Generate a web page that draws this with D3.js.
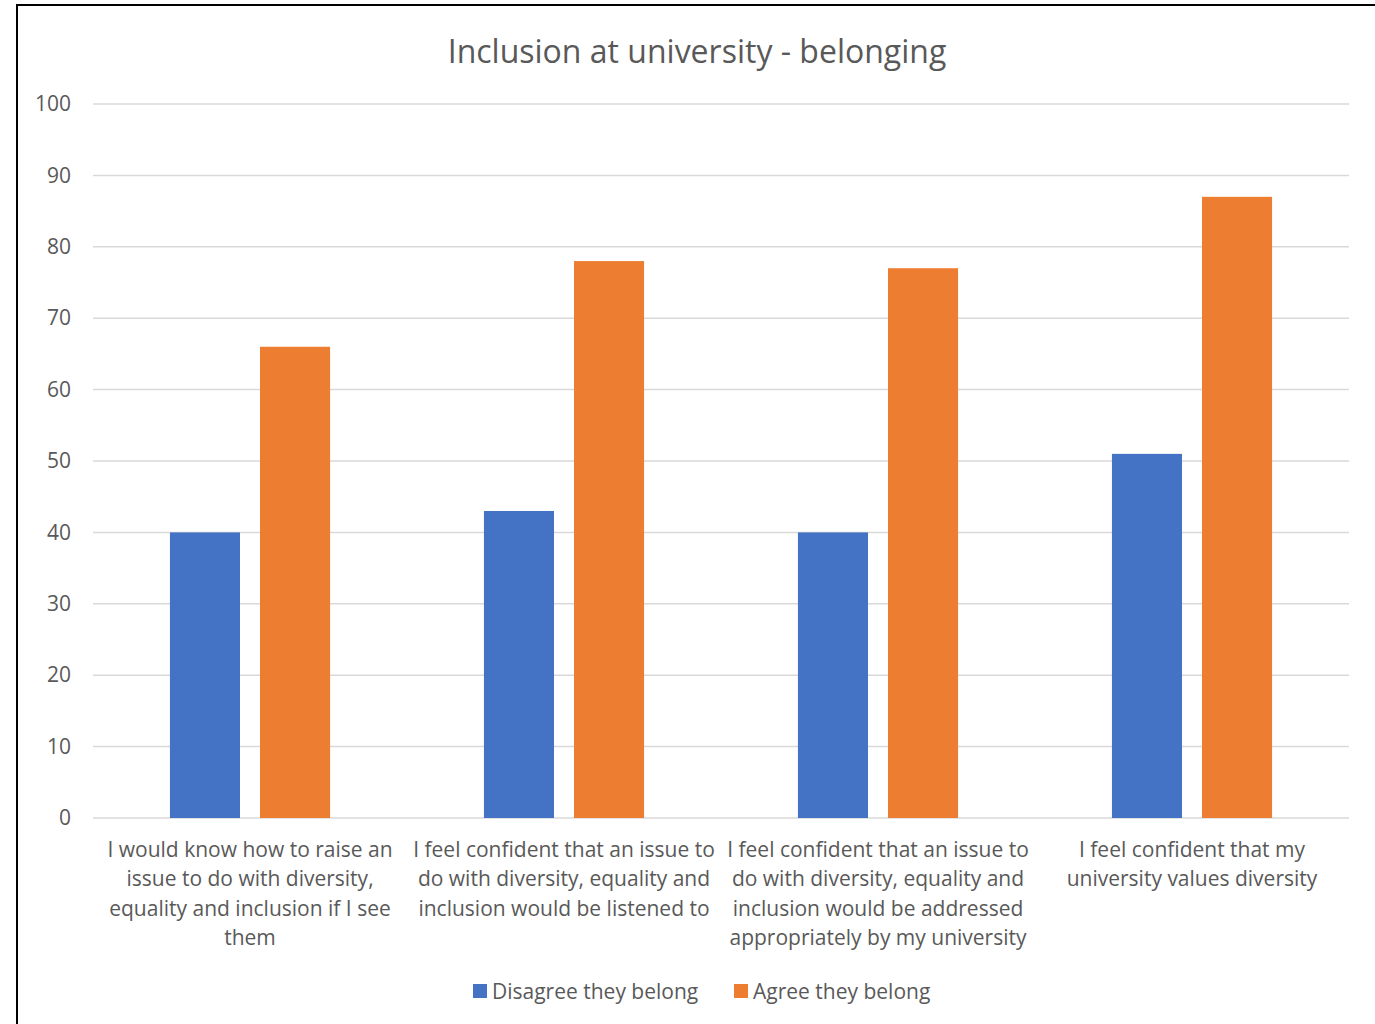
<!DOCTYPE html>
<html>
<head>
<meta charset="utf-8">
<script src="https://cdn.jsdelivr.net/npm/d3@7"></script>
<style>
  html, body { margin: 0; padding: 0; background: #ffffff; }
  svg { display: block; }
  text { font-family: "Open Sans", "Liberation Sans", sans-serif; fill: #595959; }
</style>
</head>
<body>
<svg id="chart" width="1375" height="1024"></svg>
<script>
// Survey categories, each as pre-wrapped label lines
const categories = [
  ["I would know how to raise an", "issue to do with diversity,", "equality and inclusion if I see", "them"],
  ["I feel confident that an issue to", "do with diversity, equality and", "inclusion would be listened to"],
  ["I feel confident that an issue to", "do with diversity, equality and", "inclusion would be addressed", "appropriately by my university"],
  ["I feel confident that my", "university values diversity"]
];
const seriesNames = ["Disagree they belong", "Agree they belong"];
const disagreeValues = [40, 43, 40, 51];
const agreeValues = [66, 78, 77, 87];
const yTicks = [0, 10, 20, 30, 40, 50, 60, 70, 80, 90, 100];
const colors = ["#4472c4", "#ed7d31"];

const svg = d3.select("#chart");

// Chart frame
svg.append("rect")
  .attr("x", 17).attr("y", 5)
  .attr("width", 1400).attr("height", 1100)
  .attr("fill", "#ffffff")
  .attr("stroke", "#000000").attr("stroke-width", 2);

const plot = { left: 93, right: 1349, top: 104, bottom: 818 };

const x0 = d3.scaleBand()
  .domain(d3.range(categories.length))
  .range([plot.left, plot.right])
  .paddingInner(0).paddingOuter(0);

// Bar pair sits in the middle half of each category band
const x1 = d3.scaleBand()
  .domain([0, 1])
  .range([x0.bandwidth() * 0.245, x0.bandwidth() * 0.755])
  .paddingInner(0.222)
  .paddingOuter(0);

const y = d3.scaleLinear().domain([0, 100]).range([plot.bottom, plot.top]);

// Title
svg.append("text")
  .attr("x", 697).attr("y", 50)
  .attr("text-anchor", "middle")
  .attr("dominant-baseline", "central")
  .style("font-size", "32px")
  .text("Inclusion at university - belonging");

// Gridlines
svg.append("g").selectAll("line")
  .data(yTicks)
  .join("line")
  .attr("x1", plot.left).attr("x2", plot.right)
  .attr("y1", d => y(d)).attr("y2", d => y(d))
  .attr("stroke", "#d9d9d9").attr("stroke-width", 1.5);

// Y axis labels
const yAxis = d3.axisLeft(y).tickValues(yTicks).tickSize(0).tickPadding(0);
const yg = svg.append("g").attr("transform", `translate(${71},0)`).call(yAxis);
yg.select(".domain").remove();
yg.selectAll("text")
  .style("font-size", "21px")
  .style("font-family", "'Open Sans', sans-serif")
  .attr("fill", "#595959");

// Bars
const rows = categories.map((c, i) => [disagreeValues[i], agreeValues[i]]);
const groups = svg.append("g").selectAll("g")
  .data(rows)
  .join("g")
  .attr("transform", (d, i) => `translate(${x0(i)},0)`);

groups.selectAll("rect")
  .data(d => d.map((v, s) => ({ v, s })))
  .join("rect")
  .attr("x", d => x1(d.s))
  .attr("width", x1.bandwidth())
  .attr("y", d => y(d.v))
  .attr("height", d => y(0) - y(d.v))
  .attr("fill", d => colors[d.s]);

// Category labels
const xAxis = d3.axisBottom(x0).tickSize(0).tickFormat(() => "");
const xg = svg.append("g").attr("transform", `translate(0,${plot.bottom})`).call(xAxis);
xg.select(".domain").remove();
xg.selectAll(".tick").each(function(d) {
  const t = d3.select(this).append("text")
    .attr("text-anchor", "middle")
    .style("font-size", "21px")
    .attr("fill", "#595959");
  categories[d].forEach((line, k) => {
    t.append("tspan")
      .attr("x", 0)
      .attr("y", 39 + k * 29.4)
      .text(line);
  });
});

// Legend
const legendX = [473, 734];
const legend = svg.append("g").selectAll("g")
  .data(seriesNames)
  .join("g")
  .attr("transform", (d, i) => `translate(${legendX[i]},${984})`);
legend.append("rect")
  .attr("width", 14).attr("height", 14)
  .attr("fill", (d, i) => colors[i]);
legend.append("text")
  .attr("x", 19).attr("y", 7)
  .attr("dominant-baseline", "central")
  .style("font-size", "21px")
  .text(d => d);
</script>
</body>
</html>
